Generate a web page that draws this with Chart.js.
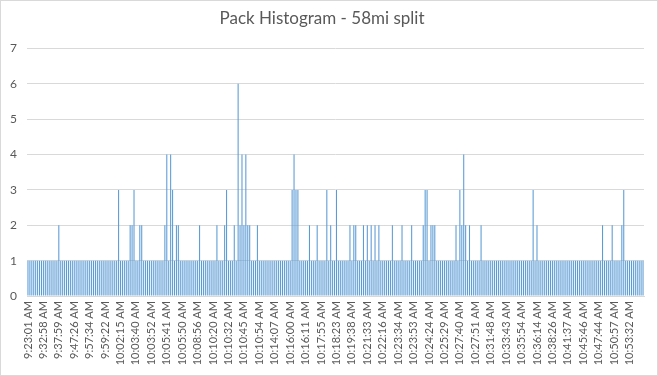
<!DOCTYPE html>
<html>
<head>
<meta charset="utf-8">
<script src="https://cdn.jsdelivr.net/npm/chart.js@4/dist/chart.umd.min.js"></script>
<style>
  html, body { margin: 0; padding: 0; background: #fff; }
  #wrap { position: relative; width: 658px; height: 376px; }
  #frame { position: absolute; left: 0; top: 0; width: 658px; height: 376px; box-sizing: border-box; border: 1px solid #d9d9d9; pointer-events: none; }
</style>
</head>
<body>
<div id="wrap">
  <canvas id="c" width="658" height="376"></canvas>
  <div id="frame"></div>
</div>
<script>
const titleText = "Pack Histogram - 58mi split";
const tickEvery = 8;
const tickLabels = [
  "9:23:01 AM","9:32:58 AM","9:37:59 AM","9:47:26 AM","9:57:34 AM","9:59:22 AM",
  "10:02:15 AM","10:03:40 AM","10:03:52 AM","10:05:41 AM","10:05:50 AM","10:08:56 AM",
  "10:10:20 AM","10:10:32 AM","10:10:45 AM","10:10:54 AM","10:14:07 AM","10:16:00 AM",
  "10:16:11 AM","10:17:55 AM","10:18:23 AM","10:19:38 AM","10:21:33 AM","10:22:16 AM",
  "10:23:34 AM","10:23:53 AM","10:24:24 AM","10:25:29 AM","10:27:40 AM","10:27:51 AM",
  "10:31:48 AM","10:33:43 AM","10:35:54 AM","10:36:14 AM","10:38:26 AM","10:41:37 AM",
  "10:45:46 AM","10:47:44 AM","10:50:57 AM","10:53:32 AM"
];
const packCounts = [
  1,1,1,1,1,1,1,1,1,1,1,1,1,1,1,1,2,1,1,1,
  1,1,1,1,1,1,1,1,1,1,1,1,1,1,1,1,1,1,1,1,
  1,1,1,1,1,1,1,3,1,1,1,1,1,2,2,3,1,1,2,2,
  1,1,1,1,1,1,1,1,1,1,1,2,4,1,4,3,1,2,2,1,
  1,1,1,1,1,1,1,1,1,2,1,1,1,1,1,1,1,1,2,1,
  1,1,2,3,1,1,1,2,1,6,2,4,2,4,2,2,1,1,1,2,
  1,1,1,1,1,1,1,1,1,1,1,1,1,1,1,1,1,3,4,3,
  3,1,1,1,1,1,2,1,1,1,2,1,1,1,1,3,1,2,1,1,
  3,1,1,1,1,1,1,2,1,2,2,1,1,1,2,1,2,1,2,1,
  2,1,2,1,1,1,1,1,1,2,1,1,1,1,2,1,1,1,1,2,
  1,1,1,1,1,2,3,3,1,2,2,2,1,1,1,1,1,1,1,1,
  1,1,2,1,3,2,4,2,1,2,1,1,1,1,1,2,1,1,1,1,
  1,1,1,1,1,1,1,1,1,1,1,1,1,1,1,1,1,1,1,1,
  1,1,3,1,2,1,1,1,1,1,1,1,1,1,1,1,1,1,1,1,
  1,1,1,1,1,1,1,1,1,1,1,1,1,1,1,1,1,1,2,1,
  1,1,1,2,1,1,1,1,2,3,1,1,1,1,1,1,1,1,1,1
];
const yTicks = [0,1,2,3,4,5,6,7];

// category labels: known tick labels every 8th category, others unreadable
const categories = packCounts.map((v, i) => (i % tickEvery === 0 && tickLabels[i / tickEvery]) ? tickLabels[i / tickEvery] : "");

const FONT = "Lato, 'Open Sans', sans-serif";
new Chart(document.getElementById('c'), {
  type: 'bar',
  data: {
    labels: categories,
    datasets: [{
      data: packCounts,
      backgroundColor: '#5b9bd5',
      borderWidth: 0,
      barPercentage: 0.55,
      categoryPercentage: 1.0
    }]
  },
  options: {
    responsive: false,
    animation: false,
    devicePixelRatio: 1,
    layout: { padding: { left: 0, right: 14, top: 0, bottom: 0 } },
    plugins: {
      legend: { display: false },
      tooltip: { enabled: false },
      title: {
        display: true,
        text: titleText,
        color: '#595959',
        font: { family: FONT, size: 17, weight: 'normal' },
        padding: { top: 8, bottom: 20 }
      }
    },
    scales: {
      x: {
        grid: { display: false, drawTicks: false },
        border: { display: true, color: '#d9d9d9' },
        ticks: {
          autoSkip: false,
          maxRotation: 90,
          minRotation: 90,
          padding: 5,
          color: '#595959',
          font: { family: FONT, size: 11 },
          callback: function(v, i) { return categories[i]; }
        },
        afterFit: function(s) { s.height = 80; s.paddingLeft = 0; s.paddingRight = 0; }
      },
      y: {
        min: 0,
        max: 7,
        afterBuildTicks: function(s) { s.ticks = yTicks.map(v => ({ value: v })); },
        grid: { color: '#d9d9d9', drawTicks: false },
        border: { display: false },
        ticks: {
          padding: 10,
          color: '#595959',
          font: { family: FONT, size: 12 }
        },
        afterFit: function(s) { s.width = 27; }
      }
    }
  }
});
</script>
</body>
</html>
